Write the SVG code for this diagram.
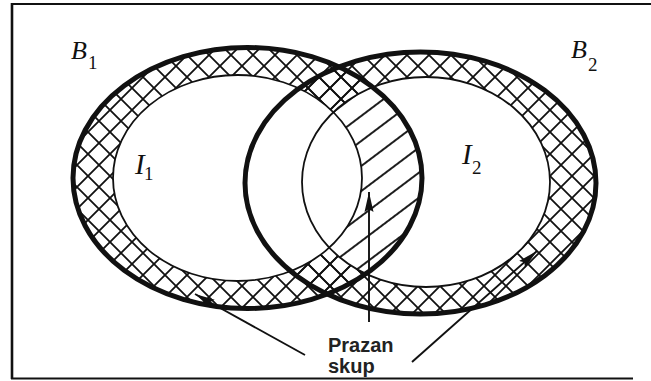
<svg xmlns="http://www.w3.org/2000/svg" width="651" height="381" viewBox="0 0 651 381">
  <style>
    .outer { fill: none; stroke: #111; stroke-width: 5; }
    .inner { fill: none; stroke: #111; stroke-width: 1.8; }
    .frame { stroke: #111; fill: none; }
    .conn { stroke: #111; stroke-width: 1.9; fill: none; marker-end: url(#arrow); }
    .lbl { font-family: "Liberation Serif", "Times New Roman", serif; font-style: italic; fill: #111; }
    .sub { font-family: "Liberation Serif", "Times New Roman", serif; fill: #111; }
    .note { font-family: "Liberation Sans", Arial, sans-serif; font-weight: bold; font-size: 20px; fill: #222; }
  </style>
  <defs>
    <pattern id="xh" patternUnits="userSpaceOnUse" width="22" height="22">
      <path d="M-2,-2 L24,24 M24,-2 L-2,24" stroke="#111" stroke-width="1.8" fill="none"/>
    </pattern>
    <pattern id="diag" patternUnits="userSpaceOnUse" width="10" height="20" patternTransform="rotate(-37)">
      <path d="M-1,10 H11" stroke="#111" stroke-width="1.9" fill="none"/>
    </pattern>
    <clipPath id="clipB1">
      <ellipse cx="247.5" cy="178" rx="174.5" ry="130.5"/>
    </clipPath>
    <marker id="arrow" markerUnits="userSpaceOnUse" viewBox="0 0 20 10" markerWidth="20" markerHeight="10" refX="20" refY="5" orient="auto">
      <path d="M0,0.5 L20,5 L0,9.5 L3,5 z" fill="#111"/>
    </marker>
  </defs>

  <rect width="651" height="381" fill="#fff"/>

  <!-- frame -->
  <g id="frame">
    <line class="frame" x1="12" y1="3" x2="12" y2="379" stroke-width="2.6"/>
    <line class="frame" x1="11" y1="4" x2="651" y2="4" stroke-width="2"/>
    <line class="frame" x1="11" y1="378.5" x2="633" y2="378.5" stroke-width="2"/>
  </g>

  <!-- fills -->
  <g id="fills">
    <ellipse cx="247.5" cy="178" rx="174.5" ry="130.5" fill="url(#xh)"/>
    <ellipse cx="420.5" cy="183" rx="175.5" ry="131" fill="url(#xh)"/>
    <ellipse cx="237.5" cy="178" rx="124.5" ry="103" fill="#fff"/>
    <ellipse cx="426" cy="182" rx="124" ry="105" fill="#fff"/>
    <g id="hatched">
      <ellipse cx="426" cy="182" rx="124" ry="105" fill="url(#diag)" clip-path="url(#clipB1)"/>
      <ellipse cx="237.5" cy="178" rx="124.5" ry="103" fill="#fff"/>
    </g>
  </g>

  <g id="I1">
    <ellipse class="inner" cx="237.5" cy="178" rx="124.5" ry="103"/>
    <text class="lbl" x="135" y="174" font-size="29">I</text>
    <text class="sub" x="144" y="180" font-size="19">1</text>
  </g>
  <g id="I2">
    <ellipse class="inner" cx="426" cy="182" rx="124" ry="105"/>
    <text class="lbl" x="462" y="164" font-size="29">I</text>
    <text class="sub" x="472" y="174" font-size="19">2</text>
  </g>
  <g id="B1">
    <ellipse class="outer" cx="247.5" cy="178" rx="174.5" ry="130.5"/>
    <text class="lbl" x="71" y="59" font-size="26">B</text>
    <text class="sub" x="88" y="69" font-size="19">1</text>
  </g>
  <g id="B2">
    <ellipse class="outer" cx="420.5" cy="183" rx="175.5" ry="131"/>
    <text class="lbl" x="571" y="58" font-size="26">B</text>
    <text class="sub" x="588" y="71" font-size="19">2</text>
  </g>

  <g id="connectors">
    <line class="conn" x1="305" y1="355" x2="195" y2="294"/>
    <line class="conn" x1="369" y1="322" x2="369" y2="192"/>
    <line class="conn" x1="412" y1="362" x2="537" y2="251"/>
  </g>

  <g id="label">
    <text class="note" x="328" y="352">Prazan</text>
    <text class="note" x="328" y="373">skup</text>
  </g>
</svg>
